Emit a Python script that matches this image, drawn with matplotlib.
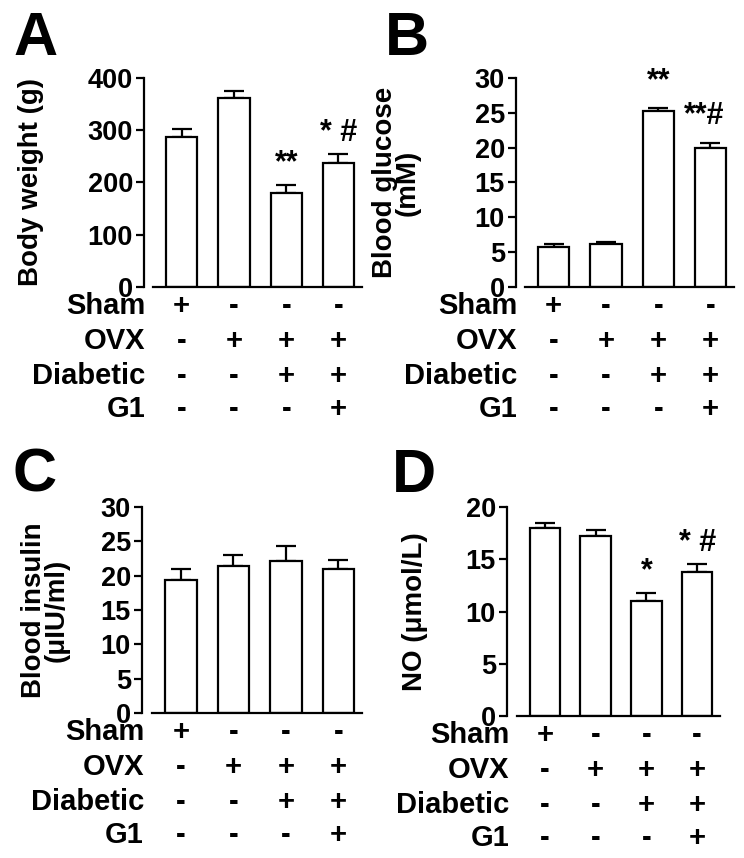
import numpy as np
import matplotlib
matplotlib.use('Agg')
import matplotlib.pyplot as plt

plt.rcParams['font.family'] = ['Liberation Sans', 'DejaVu Sans']
plt.rcParams['font.weight'] = 'bold'
plt.rcParams['axes.labelweight'] = 'bold'

# treatment design under each bar
groups = ['Sham', 'OVX', 'Diabetic', 'G1']
design = [['+', '-', '-', '-'],
          ['-', '+', '+', '+'],
          ['-', '-', '+', '+'],
          ['-', '-', '-', '+']]

# values (mean, SEM)
weight_mean = [287, 362, 180, 238]
weight_err = [15, 13, 16, 16]
weight_marks = ['', '', '**', '* #']

glucose_mean = [5.8, 6.2, 25.3, 19.9]
glucose_err = [0.4, 0.3, 0.4, 0.8]
glucose_marks = ['', '', '**', '**#']

insulin_mean = [19.3, 21.4, 22.1, 21.0]
insulin_err = [1.6, 1.6, 2.2, 1.3]
insulin_marks = ['', '', '', '']

no_mean = [18.0, 17.2, 11.0, 13.8]
no_err = [0.5, 0.6, 0.8, 0.7]
no_marks = ['', '', '*', '* #']

W, H = 744, 858
fig = plt.figure(figsize=(W / 100, H / 100), dpi=100)


def px_rect(left, top, right, bottom):
    return [left / W, 1 - bottom / H, (right - left) / W, (bottom - top) / H]


def draw_panel(rect, letter, letter_pos, means, errs, marks, ymax, ystep,
               ylabel, ylabel_x, gap, mark_pad):
    ax = fig.add_axes(rect)
    x = np.arange(len(means))
    ax.bar(x, means, width=0.6, color='white', edgecolor='black',
           linewidth=1.6, zorder=2)
    ax.errorbar(x, means, yerr=[np.zeros(len(errs)), errs], fmt='none',
                ecolor='black', elinewidth=1.6, capsize=7, capthick=1.6,
                zorder=1)
    ax.set_xlim(-0.55, 3.45)
    ax.set_ylim(0, ymax)
    ax.set_yticks(np.arange(0, ymax + ystep / 2, ystep))
    for s in ['top', 'right']:
        ax.spines[s].set_visible(False)
    ax.spines['left'].set_position(('outward', gap * 0.72))
    ax.spines['left'].set_linewidth(1.6)
    ax.spines['bottom'].set_linewidth(1.6)
    ax.tick_params(axis='x', length=0, labelbottom=False)
    ax.tick_params(axis='y', direction='out', length=6, width=1.6,
                   labelsize=19.5, pad=2)
    ax.set_ylabel(ylabel, fontsize=20, linespacing=0.85)
    ax.yaxis.set_label_coords(ylabel_x, 0.5)

    for i, m in enumerate(marks):
        if m:
            dx = -6 if m == '**#' else 0
            ax.annotate(m, xy=(i, means[i] + errs[i]), xytext=(dx, mark_pad),
                        textcoords='offset pixels', ha='center',
                        va='bottom', fontsize=22)

    # treatment table
    row_off = [19, 54, 89, 122]
    for r, name in enumerate(groups):
        ax.annotate(name, xy=(0, 0), xycoords='axes fraction',
                    xytext=(-8, -row_off[r]), textcoords='offset pixels',
                    ha='right', va='center', fontsize=21)
        for i in range(len(means)):
            ax.annotate(design[r][i], xy=(i, 0),
                        xycoords=('data', 'axes fraction'),
                        xytext=(0, -row_off[r]), textcoords='offset pixels',
                        ha='center', va='center', fontsize=21)

    fig.text(letter_pos[0] / W, 1 - letter_pos[1] / H, letter, fontsize=44,
             ha='left', va='baseline')
    return ax


draw_panel(px_rect(153, 78, 362, 287), 'A', (13, 55), weight_mean,
           weight_err, weight_marks, 400, 100, 'Body weight (g)', -0.52, 9, 6)
draw_panel(px_rect(525, 78, 734, 287), 'B', (385, 55), glucose_mean,
           glucose_err, glucose_marks, 30, 5, 'Blood glucose\n(mM)', -0.50, 9, 12)
draw_panel(px_rect(152, 507, 362, 713), 'C', (13, 492), insulin_mean,
           insulin_err, insulin_marks, 30, 5, 'Blood insulin\n(\u03bcIU/ml)', -0.39, 10, 6)
draw_panel(px_rect(517, 507, 720, 716), 'D', (392, 492), no_mean,
           no_err, no_marks, 20, 5, 'NO (\u03bcmol/L)', -0.44, 10, 6)

fig.savefig('out.png', dpi=100)
